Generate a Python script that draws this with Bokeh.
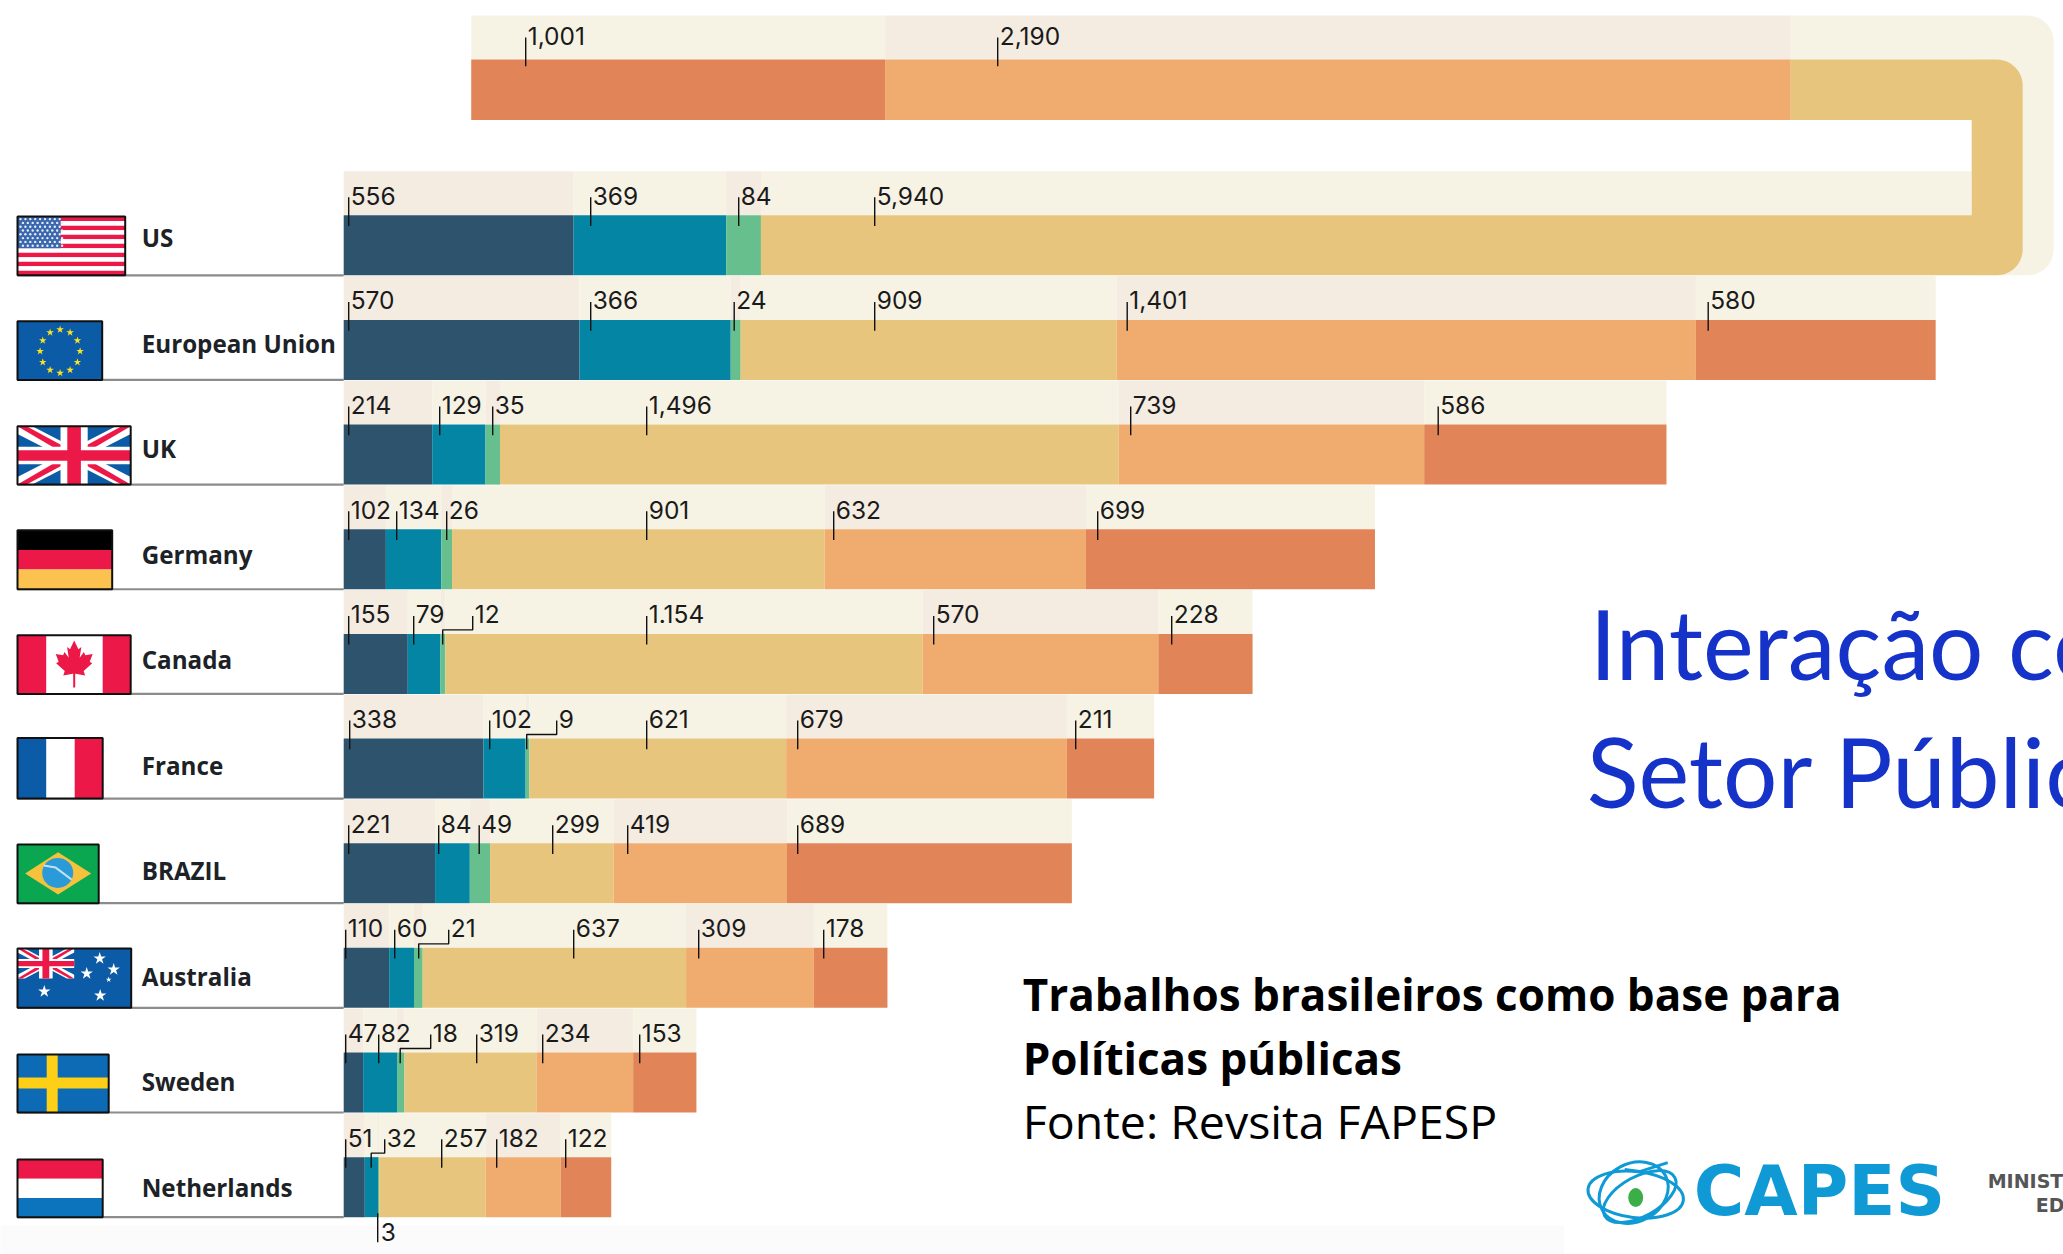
import math
from bokeh.plotting import figure
from bokeh.models import Range1d
from bokeh.core.properties import value
from bokeh.embed import file_html
from bokeh.resources import INLINE

# ---------- data ----------
countries = ["US", "European Union", "UK", "Germany", "Canada", "France",
             "BRAZIL", "Australia", "Sweden", "Netherlands"]
us = [556, 369, 84, 5940]
us_wrapped = [2190, 1001]
eu = [570, 366, 24, 909, 1401, 580]
uk = [214, 129, 35, 1496, 739, 586]
germany = [102, 134, 26, 901, 632, 699]
canada = [155, 79, 12, 1154, 570, 228]
france = [338, 102, 9, 621, 679, 211]
brazil = [221, 84, 49, 299, 419, 689]
australia = [110, 60, 21, 637, 309, 178]
sweden = [47, 82, 18, 319, 234, 153]
netherlands = [51, 32, 3, 257, 182, 122]
rows = [us, eu, uk, germany, canada, france, brazil, australia, sweden, netherlands]

# ---------- layout (page pixels of the reference) ----------
X0, SCALE = 344.0, 0.4135
WRAP_PX = 1791.0
BAR_H, BAND_H, PITCH, FIRST_BOTTOM = 60.0, 44.0, 104.65, 275.7
NAVY, TEAL, GREEN, YELLOW, LORANGE, DORANGE = "#2e536d", "#0485a3", "#66bf8d", "#e8c57c", "#f0ab6f", "#e18458"
seg_colors = [NAVY, TEAL, GREEN, YELLOW, LORANGE, DORANGE]
PINK, CREAM = "#f4ebe1", "#f6f3e5"
BASE = 0.39   # em shift of the alphabetic baseline in the svg output
SX, SY = 0.8, 0.9   # nudge of the whole drawing

tick_px = [
    [349, 591, 739, 875],
    [349, 591, 734.5, 875, 1127.5, 1708.5],
    [349, 440, 493, 647, 1131, 1438.5],
    [349, 397, 447, 647, 834, 1098],
    [349, 414, 443, 647, 934, 1172],
    [350, 490, 527, 647, 798, 1076],
    [349, 439, 479.5, 553, 628, 798],
    [346, 395, 419, 574, 699, 824],
    [346, 379, 400.5, 477, 543, 640],
    [346, 371.5, 378, 442, 497, 566],
]
elbow_px = {(4, 2): 473, (5, 2): 557, (7, 2): 449, (8, 2): 431, (9, 1): 385}
flag_right = [125.5, 102.5, 131, 112.5, 131, 103, 99, 131.5, 109, 103]
flag_top = [217, 321.7, 426.7, 530.7, 635.7, 738.5, 845, 949, 1055, 1160]
FLAG_L = 17.8

p = figure(width=2063, height=1254, output_backend="svg", toolbar_location=None,
           x_range=Range1d((SX - X0) / SCALE, (2063 + SX - X0) / SCALE),
           y_range=Range1d(1254 + SY, SY), min_border=0, outline_line_color=None,
           background_fill_color="white", border_fill_color="white")
p.extra_x_ranges["px"] = Range1d(SX, 2063 + SX)
p.axis.visible = False
p.grid.visible = False
PX = dict(x_range_name="px")


def bottom_of(i):
    return FIRST_BOTTOM + PITCH * i


def rect(l, t, r, b, color):
    p.quad(left=[l], right=[r], top=[t], bottom=[b], fill_color=color, line_color=None, **PX)


def poly(xs, ys, color, **kw):
    p.patch(xs, ys, fill_color=color, line_color=None, **PX, **kw)


def txt(x, y, s, font, size, color, style="normal"):
    p.text([x], [y - BASE * size], text=[s], text_font=value(font), text_font_size=f"{size}px",
           text_font_style=style, text_color=color, text_baseline="alphabetic", text_align="left", **PX)


def arc_pts(cx, cy, r, a0, a1, n=12):
    return [(cx + r * math.cos(math.radians(a0 + (a1 - a0) * k / n)),
             cy + r * math.sin(math.radians(a0 + (a1 - a0) * k / n))) for k in range(n + 1)]


# faint lower strip
rect(0, 1226, 1564, 1256, "#fbfbfb")

# ---------- the wrap-around of the US bar ----------
T, B, TB, YB = 16.0, bottom_of(0), 60.0, 120.3
pts = [(WRAP_PX, T)] + arc_pts(2054 - 26, T + 26, 26, -90, 0) + arc_pts(2054 - 26, B - 26, 26, 0, 90) + \
      [(1972, B), (1972, TB), (WRAP_PX, TB)]
poly([a for a, _ in pts], [b for _, b in pts], CREAM)
start = X0 + sum(us[:3]) * SCALE
rect(start, B - BAR_H - BAND_H, 1972, B - BAR_H, CREAM)
pts = [(WRAP_PX, TB)] + arc_pts(2023 - 26, TB + 26, 26, -90, 0) + arc_pts(2023 - 26, B - 26, 26, 0, 90) + \
      [(start, B), (start, B - BAR_H), (1972, B - BAR_H), (1972, YB), (WRAP_PX, YB)]
poly([a for a, _ in pts], [b for _, b in pts], YELLOW)

# top row, running leftwards from the bend
wrap_right = (WRAP_PX - X0) / SCALE
r0 = wrap_right
for v, col, band in zip(us_wrapped, [LORANGE, DORANGE], [PINK, CREAM]):
    p.quad(left=[r0 - v], right=[r0], top=[TB - 44], bottom=[TB], fill_color=band, line_color=None)
    p.quad(left=[r0 - v], right=[r0], top=[TB], bottom=[YB], fill_color=col, line_color=None)
    r0 -= v

# ---------- rules, bands, bars ----------
for i, vals in enumerate(rows):
    b = bottom_of(i)
    p.line([FLAG_L, X0], [b, b], line_color="#8c8c8c", line_width=2.2, **PX)
    left = 0
    for j, v in enumerate(vals):
        if not (i == 0 and j == 3):
            p.quad(left=[left], right=[left + v], top=[b - BAR_H - BAND_H], bottom=[b - BAR_H],
                   fill_color=PINK if j % 2 == 0 else CREAM, line_color=None)
            p.quad(left=[left], right=[left + v], top=[b - BAR_H], bottom=[b],
                   fill_color=seg_colors[j], line_color=None)
        left += v

# ---------- leaders and value labels ----------
LF, LS, LC = "Inter", 24.5, "#1a1a1a"
TICK = dict(line_color="#111111", line_width=1.4)


def label_text(i, v):
    return "1.154" if (i, v) == (4, 1154) else f"{v:,}"


for i, vals in enumerate(rows):
    top = bottom_of(i) - BAR_H
    for j, v in enumerate(vals):
        tx = tick_px[i][j]
        if (i, j) == (9, 2):           # the lone label under the last bar
            b = bottom_of(i)
            p.line([tx, tx], [b - 4, b + 25], **TICK, **PX)
            txt(tx + 3, b + 24, label_text(i, v), LF, LS, LC)
            continue
        if (i, j) in elbow_px:
            ex = elbow_px[(i, j)]
            p.line([tx, tx, ex, ex], [top + 10.7, top - 4, top - 4, top - 18], **TICK, **PX)
            lx = ex
        else:
            p.line([tx, tx], [top + 10.7, top - 18], **TICK, **PX)
            lx = tx
        txt(lx + 2, top - 10, label_text(i, v), LF, LS, LC)

for v, tx in zip(us_wrapped[::-1], [526, 998]):
    p.line([tx, tx], [TB + 6.7, TB - 22], **TICK, **PX)
    txt(tx + 2, TB - 14, f"{v:,}", LF, LS, LC)

# ---------- country names ----------
for i, name in enumerate(countries):
    txt(142, 247.5 + 105.5 * i, name, "Open Sans", 24.2, "#1c2226", "bold")

# ---------- flags ----------
RED, BLUE, WHITE = "#ec1848", "#0b5ba6", "#ffffff"


def jack(l, t, r, b):
    w, h = r - l, b - t
    rect(l, t, r, b, BLUE)
    def P(pts, col):
        poly([l + a * w for a, _ in pts], [t + c * h for _, c in pts], col)
    d = 0.13
    for s in (0, 1):
        f = (lambda q: q) if s == 0 else (lambda q: 1 - q)
        P([(f(0), 0), (f(d), 0), (f(1), 1 - d), (f(1), 1), (f(1 - d), 1), (f(0), d)], WHITE)
    e = 0.05
    for s in (0, 1):
        f = (lambda q: q) if s == 0 else (lambda q: 1 - q)
        P([(f(0), 0), (f(e + .03), 0), (f(.5), .44), (f(.44), .5)], RED)
        P([(f(1), 1), (f(1 - e - .03), 1), (f(.5), .56), (f(.56), .5)], RED)
    rect(l + .38 * w, t, l + .62 * w, b, WHITE)
    rect(l, t + .35 * h, r, t + .65 * h, WHITE)
    rect(l + .44 * w, t, l + .56 * w, b, RED)
    rect(l, t + .41 * h, r, t + .59 * h, RED)


def stars(xs, ys, size, col):
    p.scatter(xs, ys, marker="star", size=size, fill_color=col, line_color=None, **PX)


def flag(i):
    l, t, r, b = FLAG_L, flag_top[i], flag_right[i], bottom_of(i)
    h = b - t
    if i == 0:
        for k in range(13):
            rect(l, t + h * k / 13, r, t + h * (k + 1) / 13, RED if k % 2 == 0 else WHITE)
        rect(l, t, 61, t + h * 7 / 13, "#3a67ad")
        xs, ys = [], []
        for a in range(9):
            for c in range(8):
                xs.append(l + 3 + a * 4.9 + (c % 2) * 2.4)
                ys.append(t + 2.5 + c * 3.8)
        p.scatter(xs, ys, marker="circle", size=2.4, fill_color="#e6ecf6", line_color=None, **PX)
    elif i == 1:
        rect(l, t, r, b, BLUE)
        xs = [60.4 + 20 * math.cos(math.radians(30 * k)) for k in range(12)]
        ys = [351.7 + 21.7 * math.sin(math.radians(30 * k)) for k in range(12)]
        stars(xs, ys, 8, "#fbe122")
    elif i == 2:
        jack(l, t, r, b)
    elif i == 3:
        rect(l, t, r, t + h / 3, "#000000")
        rect(l, t + h / 3, r, t + 2 * h / 3, RED)
        rect(l, t + 2 * h / 3, r, b, "#fcc24f")
    elif i == 4:
        rect(l, t, r, b, WHITE)
        rect(l, t, 46.5, b, RED)
        rect(103, t, r, b, RED)
        half = [(0, 1), (.2, .62), (.34, .72), (.26, .25), (.46, .5), (.53, .36), (.88, .42),
                (.74, .08), (.86, .02), (.45, -.32), (.52, -.52), (.07, -.44)]
        pts = half + [(-a, c) for a, c in half[::-1][:-1]]
        poly([74.5 + 21 * a for a, _ in pts], [664 - 23 * c for _, c in pts], RED)
        p.line([74.5, 74.5], [670, 688], line_color=RED, line_width=2, **PX)
    elif i == 5:
        rect(l, t, r, b, WHITE)
        rect(l, t, 46.5, b, BLUE)
        rect(75, t, r, b, RED)
    elif i == 6:
        rect(l, t, r, b, "#0aa650")
        poly([25.4, 58.4, 91.5, 58.4], [873.8, 852.7, 873.8, 895], "#f4c23c")
        p.ellipse([58], [873.3], width=[31], height=[30], fill_color="#2a9bd8", line_color=None, **PX)
        p.line([44, 56, 72], [866, 868, 880], line_color="#bfe3f4", line_width=2, **PX)
    elif i == 7:
        rect(l, t, r, b, BLUE)
        jack(l, t, 74.5, 979)
        stars([44.6, 100, 114, 87, 100.5], [992, 959, 970, 974, 996], 13, WHITE)
        stars([109], [980], 6, WHITE)
    elif i == 8:
        rect(l, t, r, b, "#0d6bb5")
        rect(47, t, 58, b, "#fdd017")
        rect(l, 1078, r, 1089, "#fdd017")
    elif i == 9:
        rect(l, t, r, t + h / 3, RED)
        rect(l, t + h / 3, r, t + 2 * h / 3, WHITE)
        rect(l, t + 2 * h / 3, r, b, "#0b74bd")
    p.quad(left=[l], right=[r], top=[t], bottom=[b], fill_color=None, line_color="#101010",
           line_width=2, **PX)


for i in range(len(countries)):
    flag(i)

# ---------- slide texts ----------
txt(1590, 680.7, "Interação com", "Lato", 96, "#1533c8")
txt(1587, 808.7, "Setor Público", "Lato", 96, "#1533c8")

txt(1023, 1011.7, "Trabalhos brasileiros como base para", "Open Sans", 44, "#000000", "bold")
txt(1023, 1075.7, "Políticas públicas", "Open Sans", 44, "#000000", "bold")
txt(1023, 1140, "Fonte: Revsita FAPESP", "Open Sans", 46.5, "#000000")

# ---------- CAPES logo ----------
LOGO = "#0f9ad6"
for cx, cy, w, h, ang in [(1636, 1195, 96, 46, -0.12), (1634, 1193, 72, 58, 0.5), (1640, 1197, 80, 40, 0.5)]:
    p.ellipse([cx], [cy], width=[w], height=[h], angle=[ang], fill_color=None,
              line_color=LOGO, line_width=3, **PX)
p.line([1625, 1640, 1668], [1170, 1172, 1163], line_color=LOGO, line_width=3, **PX)
p.ellipse([1636], [1198], width=[15], height=[19], fill_color="#3cae49", line_color=None, **PX)
txt(1694, 1218.5, "CAPES", "DejaVu Sans", 69, LOGO, "bold")
txt(1988, 1189, "MINISTÉRIO DA", "DejaVu Sans", 19, "#555555", "bold")
txt(2036, 1213, "EDUCAÇÃO", "DejaVu Sans", 19, "#555555", "bold")

open("out.html", "w").write(file_html(p, INLINE))
